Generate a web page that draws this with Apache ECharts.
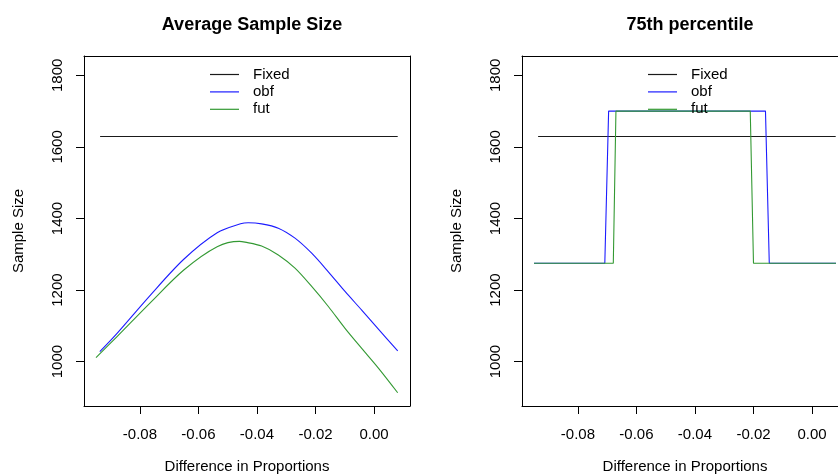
<!DOCTYPE html>
<html>
<head>
<meta charset="utf-8">
<script src="https://cdn.jsdelivr.net/npm/echarts@6/dist/echarts.min.js"></script>
<style>
html,body{margin:0;padding:0;background:#fff;overflow:hidden;width:838px;height:475px;}
#chart{width:880px;height:475px;}
</style>
</head>
<body>
<div id="chart"></div>
<script>
// ---- data ----
const xTicks = [-0.08, -0.06, -0.04, -0.02, 0.00];
const yTicks = [1000, 1200, 1400, 1600, 1800];
const seriesNames = ['Fixed', 'obf', 'fut'];
const panelTitles = ['Average Sample Size', '75th percentile'];

const fixedX = [-0.0936, 0.0081];
const fixedValue = 1629;

// Average sample size curves
const avgObfX = [-0.0937, -0.0878, -0.0764, -0.0650, -0.0536, -0.0456, -0.0430, -0.0384, -0.0327, -0.0270, -0.0213, -0.0156, -0.0099, -0.0042, 0.0015, 0.0081];
const avgObfY = [1028, 1079, 1186, 1286, 1360, 1385, 1388, 1385, 1373, 1345, 1303, 1251, 1196, 1144, 1091, 1030];
const avgFutX = [-0.0950, -0.0878, -0.0764, -0.0650, -0.0536, -0.0460, -0.0441, -0.0384, -0.0327, -0.0270, -0.0213, -0.0156, -0.0099, -0.0042, 0.0015, 0.0081];
const avgFutY = [1011, 1070, 1165, 1256, 1321, 1336, 1334, 1323, 1298, 1261, 1210, 1154, 1093, 1037, 982, 913];

// 75th percentile step curves
const pctObfX = [-0.0950, -0.0708, -0.0695, -0.0159, -0.0146, 0.0082];
const pctObfY = [1275, 1275, 1700, 1700, 1275, 1275];
const pctFutX = [-0.0950, -0.0679, -0.0670, -0.0211, -0.0200, 0.0082];
const pctFutY = [1275, 1275, 1700, 1700, 1275, 1275];

// ---- chart ----
const zip = (xs, ys) => xs.map((x, i) => [x, ys[i]]);
const FONT = 'Liberation Sans, Arial, Helvetica, sans-serif';
const colors = {Fixed: '#1a1a1a', obf: '#1c1cff', fut: '#339933'};

const gridLefts = [84, 522];
const gridWidths = [326, 326];
const centers = [247, 685];
const X_MIN = -0.0991, X_MAX = 0.0123, Y_MIN = 876, Y_MAX = 1854;
const frameLine = {show: true, onZero: false, lineStyle: {color: '#000', width: 1}};

function xAxisFor(i) {
  return {
    type: 'value', gridIndex: i, min: X_MIN, max: X_MAX, position: 'bottom',
    axisLine: frameLine,
    splitLine: {show: false},
    axisTick: {show: true, customValues: xTicks, length: 8, lineStyle: {color: '#000', width: 1}},
    axisLabel: {customValues: xTicks, formatter: v => v.toFixed(2), fontSize: 15, color: '#000', fontFamily: FONT, margin: 21},
    name: 'Difference in Proportions', nameLocation: 'middle', nameGap: 53,
    nameTextStyle: {fontSize: 15, color: '#000', fontFamily: FONT}
  };
}
function topFrameAxis(i) {
  return {
    type: 'value', gridIndex: i, min: X_MIN, max: X_MAX, position: 'top',
    axisLine: frameLine, axisTick: {show: false}, axisLabel: {show: false}, splitLine: {show: false}
  };
}
function yAxisFor(i) {
  return {
    type: 'value', gridIndex: i, min: Y_MIN, max: Y_MAX, position: 'left',
    axisLine: frameLine,
    splitLine: {show: false},
    axisTick: {show: true, customValues: yTicks, length: 8, lineStyle: {color: '#000', width: 1}},
    axisLabel: {customValues: yTicks, rotate: 90, fontSize: 15, color: '#000', fontFamily: FONT, margin: 19, formatter: v => String(v)},
    name: 'Sample Size', nameLocation: 'middle', nameGap: 58, nameRotate: 90,
    nameTextStyle: {fontSize: 15, color: '#000', fontFamily: FONT}
  };
}
function rightFrameAxis(i) {
  return {
    type: 'value', gridIndex: i, min: Y_MIN, max: Y_MAX, position: 'right',
    axisLine: frameLine, axisTick: {show: false}, axisLabel: {show: false}, splitLine: {show: false}
  };
}
function lineSeries(name, i, data) {
  return {
    name: name, type: 'line', xAxisIndex: i, yAxisIndex: i,
    data: data, showSymbol: false, symbol: 'none', color: colors[name],
    lineStyle: {width: 1.1, color: colors[name]}, silent: true, z: 3
  };
}

const chart = echarts.init(document.getElementById('chart'), null, {renderer: 'canvas'});
const option = {
  animation: false,
  backgroundColor: '#fff',
  title: panelTitles.map((t, i) => ({
    text: t, left: centers[i], top: 11, textAlign: 'center',
    textStyle: {fontSize: 18, fontWeight: 'bold', color: '#000', fontFamily: FONT}
  })),
  legend: gridLefts.map((l, i) => ({
    data: seriesNames, orient: 'vertical', left: l + 121, top: 62,
    itemWidth: 29, itemHeight: 1.2, icon: 'rect', itemGap: 2.4,
    textStyle: {fontSize: 15, color: '#000', fontFamily: FONT, padding: [0, 0, 0, 9]},
    selectedMode: false
  })),
  grid: gridLefts.map((l, i) => ({
    left: l, top: 56, width: gridWidths[i], height: 350, show: false,
    containLabel: false, outerBoundsMode: 'none'
  })),
  xAxis: [xAxisFor(0), xAxisFor(1), topFrameAxis(0), topFrameAxis(1)],
  yAxis: [yAxisFor(0), yAxisFor(1), rightFrameAxis(0), rightFrameAxis(1)],
  series: [
    lineSeries('Fixed', 0, zip(fixedX, fixedX.map(() => fixedValue))),
    Object.assign(lineSeries('obf', 0, zip(avgObfX, avgObfY)), {smooth: 0.3}),
    Object.assign(lineSeries('fut', 0, zip(avgFutX, avgFutY)), {smooth: 0.3}),
    lineSeries('Fixed', 1, zip(fixedX, fixedX.map(() => fixedValue))),
    lineSeries('obf', 1, zip(pctObfX, pctObfY)),
    lineSeries('fut', 1, zip(pctFutX, pctFutY))
  ]
};
chart.setOption(option);
</script>
</body>
</html>
